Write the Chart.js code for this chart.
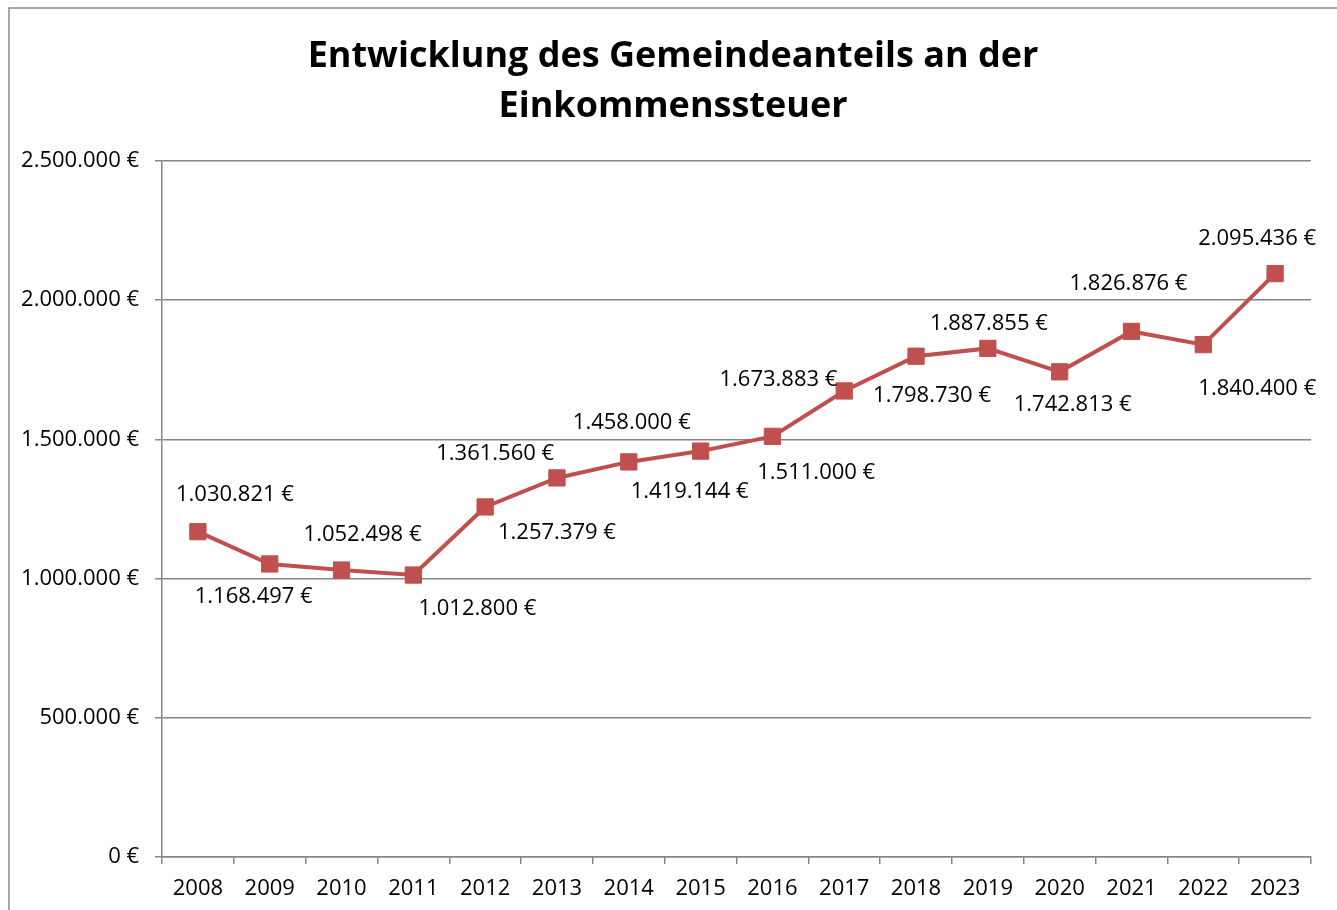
<!DOCTYPE html>
<html>
<head>
<meta charset="utf-8">
<script src="https://cdn.jsdelivr.net/npm/chart.js@4/dist/chart.umd.min.js"></script>
<style>
  html, body { margin: 0; padding: 0; background: #ffffff; }
  #wrap { width: 1337px; height: 910px; position: relative; }
</style>
</head>
<body>
<div id="wrap"><canvas id="c" width="1337" height="910"></canvas></div>
<script>
// ---- Data ----
const years = ['2008','2009','2010','2011','2012','2013','2014','2015','2016','2017','2018','2019','2020','2021','2022','2023'];
const amounts = [1168497, 1052498, 1030821, 1012800, 1257379, 1361560, 1419144, 1458000, 1511000, 1673883, 1798730, 1826876, 1742813, 1887855, 1840400, 2095436];
// data label texts as printed next to each point in the reference
const pointLabels = ['1.030.821 €','1.168.497 €','1.052.498 €','1.012.800 €','1.361.560 €','1.257.379 €','1.458.000 €','1.419.144 €','1.673.883 €','1.511.000 €','1.798.730 €','1.887.855 €','1.742.813 €','1.826.876 €','1.840.400 €','2.095.436 €'];
const titleLines = ['Entwicklung des Gemeindeanteils an der', 'Einkommenssteuer'];
const yMin = 0, yMax = 2500000, yStep = 500000;

// ---- Layout / style (not data) ----
const labelOffsets = [[37,-37],[-16,33],[21,-35],[64,34],[10,-53],[0,55],[3,-39],[-11,41],[6,-57],[-28,82],[16,40],[1,-25],[13,33],[-3,-48],[54,44],[-18,-35]];
const FONT = "'Open Sans', 'Liberation Sans', sans-serif";
const TEXT_SIZE = 22;
const LINE_COLOR = '#C0504D';
const GRID_COLOR = '#868686';
const FRAME_LEFT = 9, FRAME_TOP = 8;

function fmtEuro(v) {
  const s = Math.round(v).toString().replace(/\B(?=(\d{3})+(?!\d))/g, '.');
  return s + ' €';
}

// white background, frame, and the two-line title centred in the frame
const framePlugin = {
  id: 'frame',
  beforeDraw(chart) {
    const ctx = chart.ctx;
    ctx.save();
    ctx.fillStyle = '#ffffff';
    ctx.fillRect(0, 0, chart.width, chart.height);
    ctx.strokeStyle = '#8c8c8c';
    ctx.lineWidth = 1.5;
    ctx.beginPath();
    ctx.moveTo(FRAME_LEFT, chart.height);
    ctx.lineTo(FRAME_LEFT, FRAME_TOP);
    ctx.lineTo(chart.width, FRAME_TOP);
    ctx.stroke();
    ctx.fillStyle = '#000000';
    ctx.font = 'bold 36px ' + FONT;
    ctx.textAlign = 'center';
    ctx.textBaseline = 'middle';
    const cx = (FRAME_LEFT + chart.width) / 2;
    titleLines.forEach((line, i) => ctx.fillText(line, cx, 57 + i * 50));
    ctx.restore();
  }
};

const labelPlugin = {
  id: 'pointTexts',
  afterDatasetsDraw(chart) {
    const ctx = chart.ctx;
    const meta = chart.getDatasetMeta(0);
    ctx.save();
    ctx.font = TEXT_SIZE + 'px ' + FONT;
    ctx.fillStyle = '#000000';
    ctx.textAlign = 'center';
    ctx.textBaseline = 'middle';
    meta.data.forEach((pt, i) => {
      const off = labelOffsets[i] || [0, -35];
      ctx.fillText(pointLabels[i], pt.x + off[0], pt.y + off[1]);
    });
    ctx.restore();
  }
};

new Chart(document.getElementById('c'), {
  type: 'line',
  data: {
    labels: years,
    datasets: [{
      data: amounts,
      borderColor: LINE_COLOR,
      backgroundColor: LINE_COLOR,
      borderWidth: 4,
      tension: 0,
      pointStyle: 'rect',
      pointRadius: 11.5,
      pointBorderWidth: 1,
      pointBackgroundColor: LINE_COLOR,
      pointBorderColor: LINE_COLOR,
      fill: false
    }]
  },
  options: {
    responsive: false,
    animation: false,
    devicePixelRatio: 1,
    layout: { padding: { left: 0, right: 26, top: 161, bottom: 0 } },
    plugins: {
      legend: { display: false },
      tooltip: { enabled: false },
      title: { display: false }
    },
    scales: {
      x: {
        type: 'category',
        offset: true,
        grid: { offset: true, drawOnChartArea: false, drawTicks: true, tickLength: 7, color: GRID_COLOR, lineWidth: 1.5 },
        border: { display: true, color: GRID_COLOR, width: 1.5 },
        ticks: { color: '#000000', font: { family: FONT, size: TEXT_SIZE }, padding: 12, maxRotation: 0, autoSkip: false },
        afterFit(scale) { scale.height = 53; }
      },
      y: {
        min: yMin,
        max: yMax,
        ticks: {
          stepSize: yStep,
          color: '#000000',
          font: { family: FONT, size: TEXT_SIZE },
          padding: 16,
          callback: (v) => fmtEuro(v)
        },
        grid: { color: GRID_COLOR, lineWidth: 1.5, drawTicks: true, tickLength: 7 },
        border: { display: true, color: GRID_COLOR, width: 1.5 },
        afterFit(scale) { scale.width = 162; }
      }
    }
  },
  plugins: [framePlugin, labelPlugin]
});
</script>
</body>
</html>
